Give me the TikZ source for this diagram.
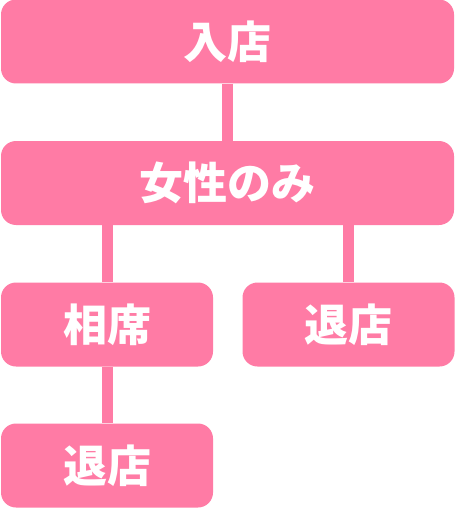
\documentclass[tikz,border=0pt]{standalone}
\usepackage{fontspec}
\newfontfamily\jpfont{Noto Sans CJK JP}
\definecolor{flowpink}{RGB}{255,123,165}

\tikzset{
  flowbox/.style={fill=flowpink, rounded corners=15pt, inner sep=0pt,
    minimum height=84pt, text=white,
    font=\jpfont\bfseries\fontsize{44pt}{44pt}\selectfont},
  widebox/.style={flowbox, minimum width=453pt},
  halfbox/.style={flowbox, minimum width=212pt},
  link/.style={flowpink, line width=11pt}
}

\begin{document}
\begin{tikzpicture}[x=1pt,y=-1pt]
\useasboundingbox (0,0) rectangle (455,508);

\node[widebox] (enter) at (227.5,41.5) {入店};
\node[widebox] (women) at (227.5,183) {女性のみ};
\node[halfbox] (share) at (107,324.5) {相席};
\node[halfbox] (leaveR) at (348.5,324.5) {退店};
\node[halfbox] (leaveL) at (107,465.5) {退店};

\draw[link] (enter.south) -- (women.north);
\draw[link] (share.north) -- (share.north |- women.south);
\draw[link] (leaveR.north) -- (leaveR.north |- women.south);
\draw[link] (share.south) -- (leaveL.north);

\end{tikzpicture}
\end{document}
